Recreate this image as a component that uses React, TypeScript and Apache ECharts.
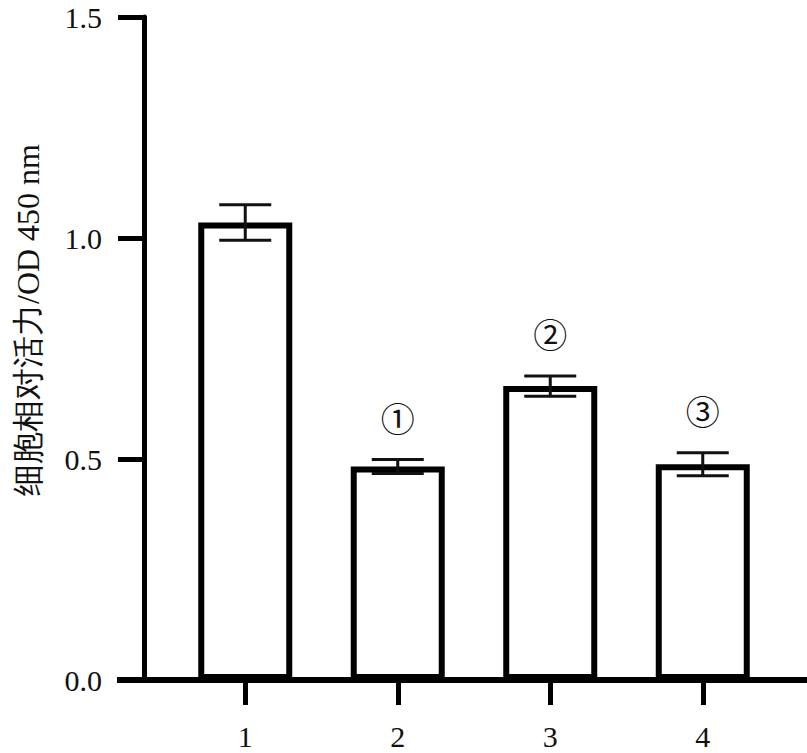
import React, { useEffect, useRef } from "react";
import * as echarts from "echarts";

const categories = ["1", "2", "3", "4"];
const means = [1.035, 0.483, 0.665, 0.488];
const errors = [0.04, 0.016, 0.023, 0.026];
const marks = ["", "①", "②", "③"];
const yTicks = { min: 0, max: 1.5, interval: 0.5 };

const SERIF = "Liberation Serif";

export default function App() {
  const ref = useRef<HTMLDivElement>(null);
  useEffect(() => {
    document.body.style.margin = "0";
    if (!ref.current) return;
    const chart = echarts.init(ref.current, null, { renderer: "svg" });
    const errData = means.map((m, i) => [i, m, errors[i]]);
    chart.setOption({
      animation: false,
      backgroundColor: "#fff",
      grid: { left: 169, right: 28, top: 17, bottom: 73 },
      xAxis: {
        type: "category",
        data: categories,
        axisLine: { show: false },
        axisTick: {
          show: true,
          alignWithLabel: true,
          length: 25,
          lineStyle: { color: "#000", width: 5 },
        },
        axisLabel: {
          margin: 41,
          fontSize: 30,
          fontFamily: SERIF,
          color: "#111",
        },
      },
      yAxis: {
        type: "value",
        min: yTicks.min,
        max: yTicks.max,
        interval: yTicks.interval,
        offset: 25,
        splitLine: { show: false },
        axisLine: { show: true, lineStyle: { color: "#000", width: 5 } },
        axisTick: { show: true, length: 26, lineStyle: { color: "#000", width: 5 } },
        axisLabel: {
          margin: 42,
          fontSize: 30,
          fontFamily: SERIF,
          color: "#111",
          formatter: (v: number) => v.toFixed(1),
        },
      },
      graphic: [
        {
          type: "line",
          shape: { x1: 117, y1: 680, x2: 807, y2: 680 },
          style: { stroke: "#000", lineWidth: 6 },
          z: 10,
        },
        {
          type: "text",
          x: 28,
          y: 320,
          rotation: Math.PI / 2,
          style: {
            text: "细胞相对活力/OD 450 nm",
            fontSize: 32,
            fontFamily: SERIF,
            fill: "#111",
            align: "center",
            verticalAlign: "middle",
          },
        },
      ],
      series: [
        {
          type: "bar",
          data: means,
          barWidth: 94,
          itemStyle: { color: "#fff", borderColor: "#000", borderWidth: 6 },
          z: 2,
        },
        {
          type: "custom",
          data: errData,
          z: 5,
          renderItem: (params: any, api: any) => {
            const idx = api.value(0);
            const m = api.value(1);
            const e = api.value(2);
            const top = api.coord([idx, m + e]);
            const bot = api.coord([idx, m - e]);
            const hw = 26;
            const style = { stroke: "#111", lineWidth: 3 };
            const children: any[] = [
              { type: "line", shape: { x1: top[0], y1: top[1], x2: bot[0], y2: bot[1] }, style },
              { type: "line", shape: { x1: top[0] - hw, y1: top[1], x2: top[0] + hw, y2: top[1] }, style },
              { type: "line", shape: { x1: bot[0] - hw, y1: bot[1], x2: bot[0] + hw, y2: bot[1] }, style },
            ];
            const mk = marks[params.dataIndex];
            if (mk) {
              children.push({
                type: "text",
                x: top[0],
                y: top[1] - 42,
                style: {
                  text: mk,
                  fontSize: 34,
                  fontFamily: "Noto Sans CJK SC",
                  fill: "#111",
                  align: "center",
                  verticalAlign: "middle",
                },
              });
            }
            return { type: "group", children };
          },
        },
      ],
    });
    return () => chart.dispose();
  }, []);
  return <div ref={ref} style={{ width: 807, height: 753 }} />;
}
